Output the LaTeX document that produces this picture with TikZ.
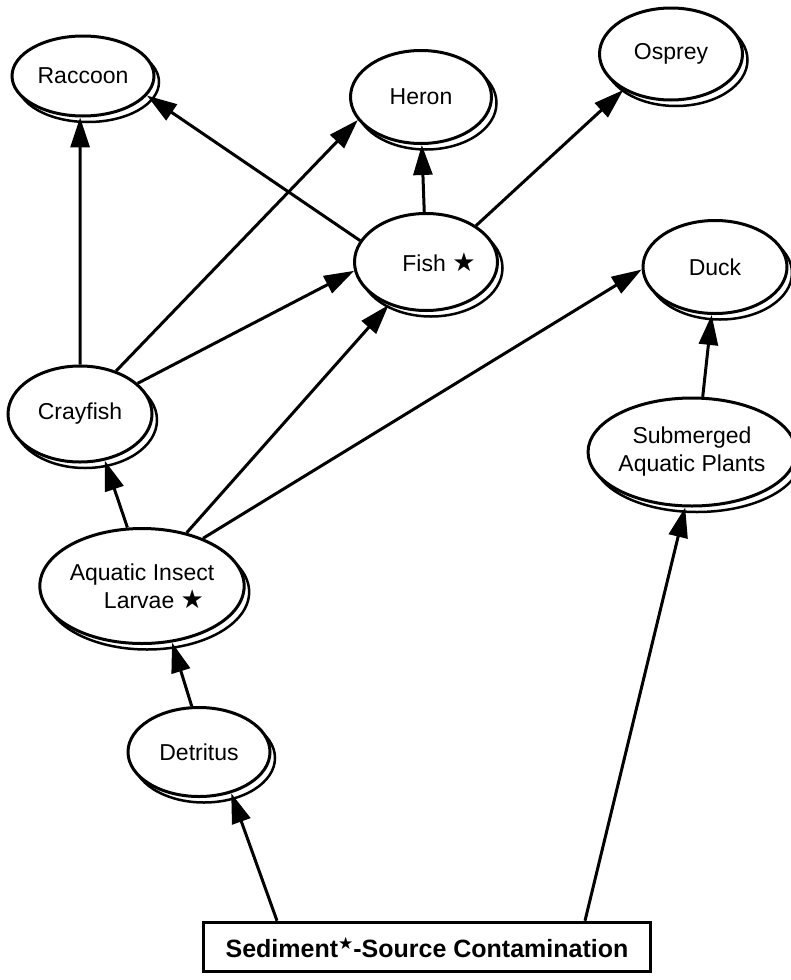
\documentclass[tikz,border=0pt]{standalone}
\usepackage{fontspec}
\setmainfont{Liberation Sans}
\newfontfamily\symfont{DejaVu Sans}
\usetikzlibrary{shapes.geometric,shadows,arrows.meta}
\newcommand{\fstar}{{\symfont\fontsize{26}{26}\selectfont ★}}
\newcommand{\supstar}{\raisebox{8pt}{\symfont\fontsize{17}{17}\selectfont ★}}

\begin{document}
\begin{tikzpicture}[x=1pt,y=-1pt,
        animal/.style={ellipse,draw,line width=3pt,fill=white,inner sep=0pt,align=center,
            font=\fontsize{23}{28}\selectfont,
            general shadow={shadow xshift=5pt,shadow yshift=-6pt,fill=white,draw=black,line width=2.5pt}},
        source/.style={draw,line width=3.5pt,fill=white,inner sep=0pt,
            font=\bfseries\fontsize{25}{28}\selectfont},
        feeds/.style={line width=3pt,-{Triangle[length=30pt,width=19pt]}}]
    \useasboundingbox (0,0) rectangle (790,980);

    % organisms
    \node[animal,minimum width=142pt,minimum height=80pt] (raccoon) at (83,76) {Raccoon};
    \node[animal,minimum width=141pt,minimum height=93pt] (heron) at (421,97) {Heron};
    \node[animal,minimum width=143pt,minimum height=92pt] (osprey) at (671,54) {Osprey};
    \node[animal,minimum width=143pt,minimum height=97pt] (fish) at (426,262) {\hspace*{26pt}Fish \fstar};
    \node[animal,minimum width=144pt,minimum height=93pt] (duck) at (715,267) {Duck};
    \node[animal,minimum width=144pt,minimum height=96pt] (crayfish) at (80,414) {Crayfish};
    \node[animal,minimum width=160pt,minimum height=108pt] (plants) at (692,452) {Submerged\\Aquatic Plants};
    \node[animal,minimum width=177pt,minimum height=115pt] (larvae) at (142,586) {Aquatic Insect\\\hspace*{24pt}Larvae \fstar};
    \node[animal,minimum width=142pt,minimum height=89pt] (detritus) at (199,752) {Detritus};

    \node[source,minimum width=447pt,minimum height=49pt] (sediment) at (427,947)
        {Sediment\supstar-Source Contamination};

    % food web links
    \draw[feeds] (crayfish.90) -- (raccoon.266);
    \draw[feeds] (fish.162) -- (raccoon.343);
    \draw[feeds] (crayfish.50) -- (heron.200);
    \draw[feeds] (fish.92) -- (heron.271);
    \draw[feeds] (fish.36) -- (osprey.217);
    \draw[feeds] (crayfish.28) -- (fish.187);
    \draw[feeds] (larvae.104) -- (crayfish.298);
    \draw[feeds] (larvae.50) -- (fish.229);
    \draw[feeds] (larvae.38) -- (duck.182);
    \draw[feeds] (plants.79) -- (duck.266);
    \draw[feeds] (detritus.99) -- (larvae.298);
    \draw[feeds] ([xshift=-150pt]sediment.north) -- (detritus.308);
    \draw[feeds] ([xshift=158pt]sediment.north) -- (plants.263);
\end{tikzpicture}
\end{document}
